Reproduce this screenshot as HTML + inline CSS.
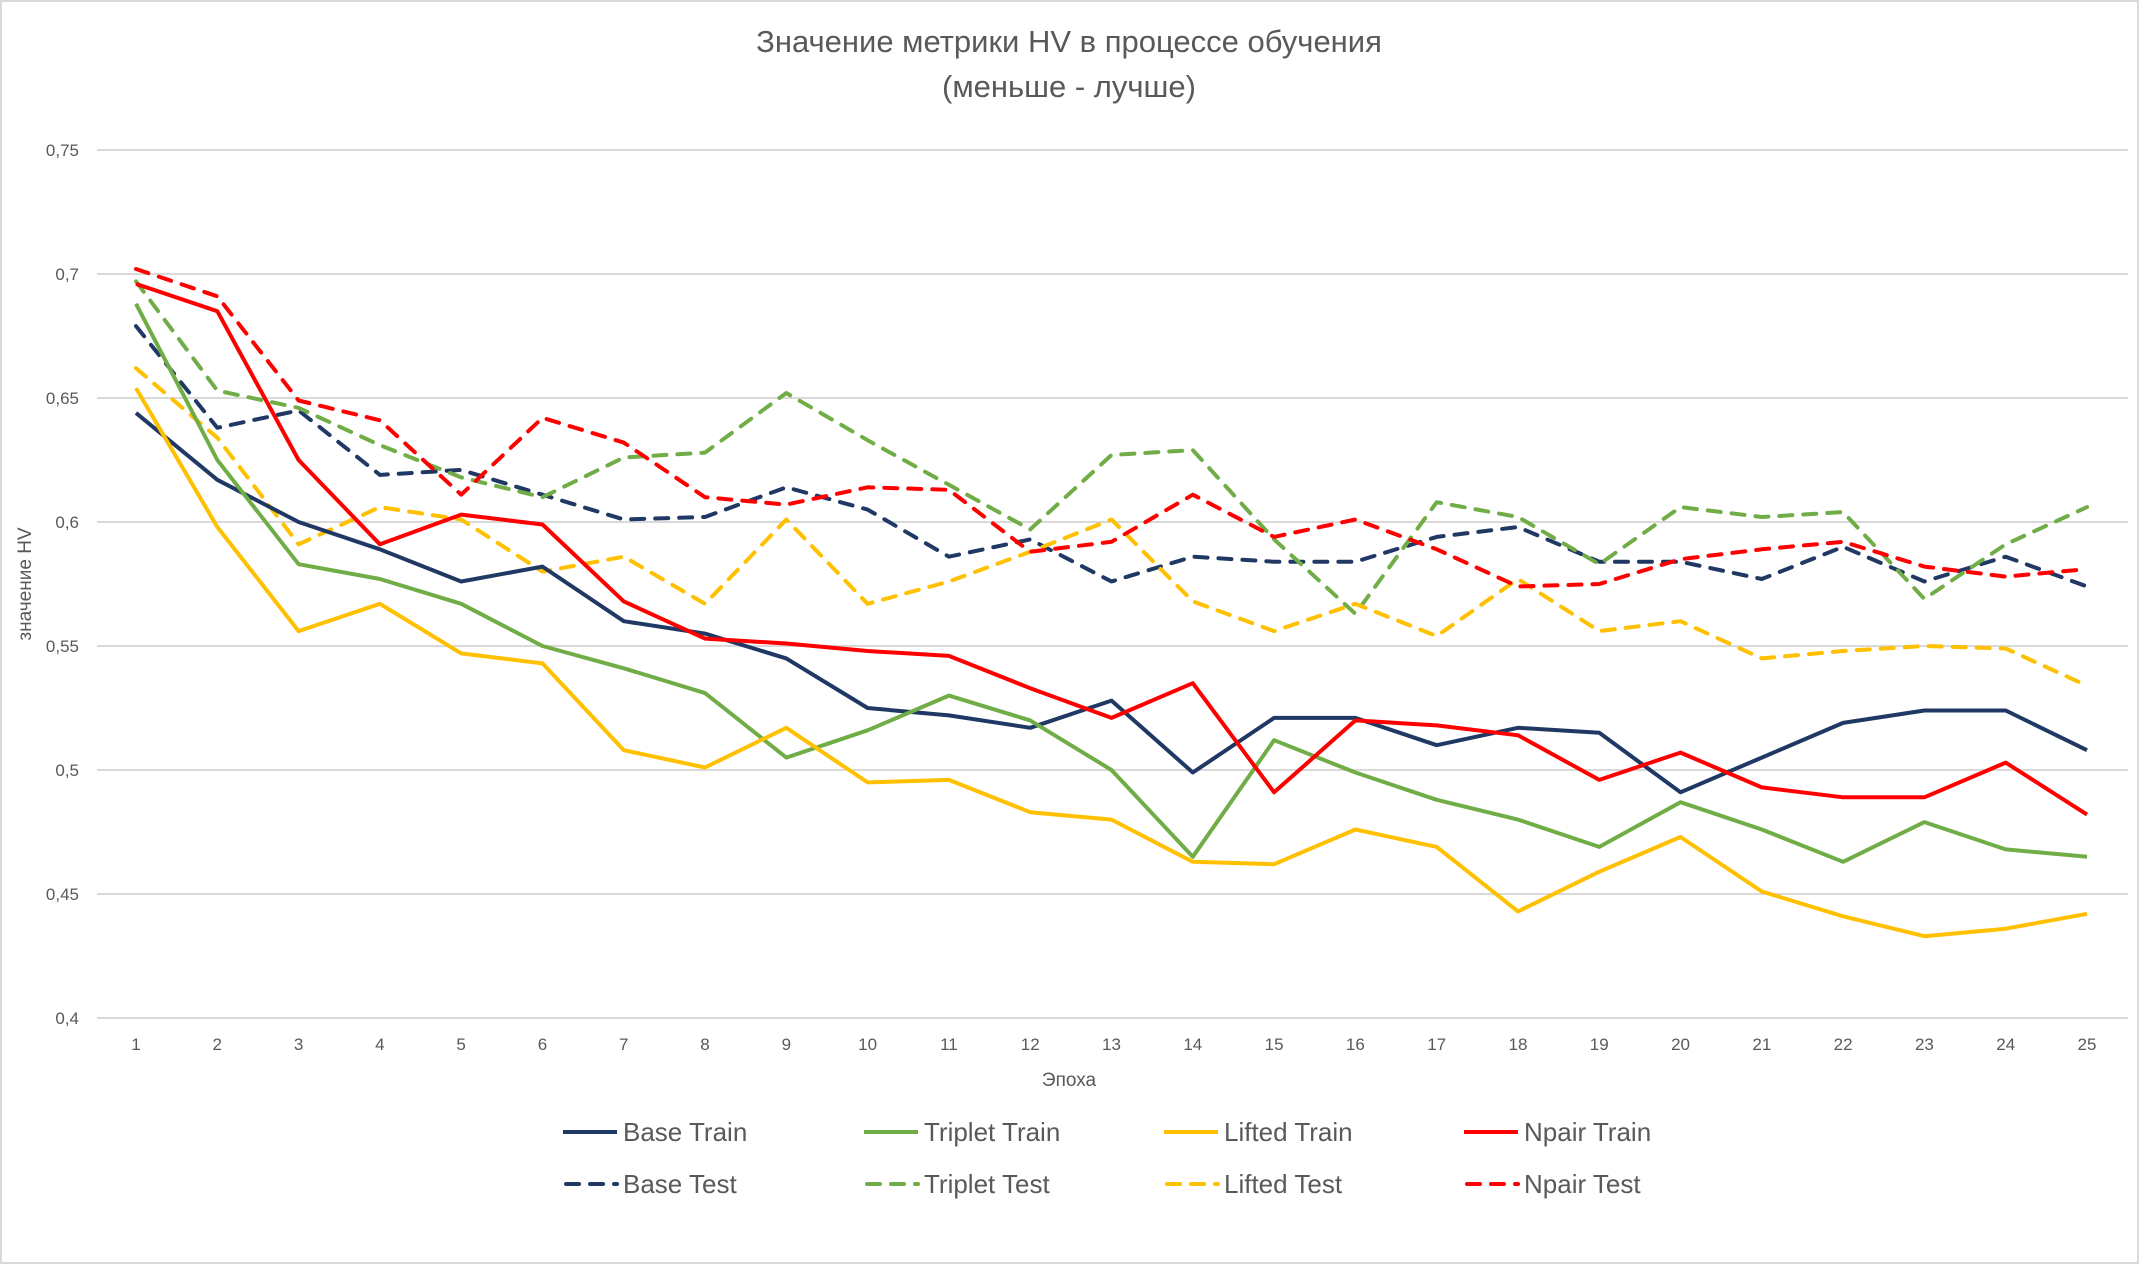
<!DOCTYPE html>
<html><head><meta charset="utf-8"><style>
html,body{margin:0;padding:0;background:#fff;}
svg{display:block;font-family:"Liberation Sans","DejaVu Sans",sans-serif;}
</style></head><body>
<svg id="chart" width="2139" height="1264" viewBox="0 0 2139 1264">
<rect x="1" y="1" width="2137" height="1262" fill="#fff" stroke="#d9d9d9" stroke-width="2"/>
<text x="1069" y="52" text-anchor="middle" font-size="31" fill="#595959">Значение метрики HV в процессе обучения</text>
<text x="1069" y="97" text-anchor="middle" font-size="31" fill="#595959">(меньше - лучше)</text>
<g id="grid"></g>
<g id="yticks"></g>
<g id="xticks"></g>
<g id="series"></g>
<text x="1069" y="1086" text-anchor="middle" font-size="19" fill="#595959">Эпоха</text>
<text transform="translate(31,584) rotate(-90)" text-anchor="middle" font-size="19" fill="#595959">значение HV</text>
<g id="legend"></g>
</svg>
<script>
const epochs=[1,2,3,4,5,6,7,8,9,10,11,12,13,14,15,16,17,18,19,20,21,22,23,24,25];
const yTicks=[0.4,0.45,0.5,0.55,0.6,0.65,0.7,0.75];
const yTickLabels=["0,4","0,45","0,5","0,55","0,6","0,65","0,7","0,75"];
const baseTrain=[0.644,0.617,0.600,0.589,0.576,0.582,0.560,0.555,0.545,0.525,0.522,0.517,0.528,0.499,0.521,0.521,0.510,0.517,0.515,0.491,0.505,0.519,0.524,0.524,0.508];
const tripletTrain=[0.688,0.625,0.583,0.577,0.567,0.550,0.541,0.531,0.505,0.516,0.530,0.520,0.500,0.465,0.512,0.499,0.488,0.480,0.469,0.487,0.476,0.463,0.479,0.468,0.465];
const liftedTrain=[0.654,0.598,0.556,0.567,0.547,0.543,0.508,0.501,0.517,0.495,0.496,0.483,0.480,0.463,0.462,0.476,0.469,0.443,0.459,0.473,0.451,0.441,0.433,0.436,0.442];
const npairTrain=[0.696,0.685,0.625,0.591,0.603,0.599,0.568,0.553,0.551,0.548,0.546,0.533,0.521,0.535,0.491,0.520,0.518,0.514,0.496,0.507,0.493,0.489,0.489,0.503,0.482];
const baseTest=[0.679,0.638,0.645,0.619,0.621,0.611,0.601,0.602,0.614,0.605,0.586,0.593,0.576,0.586,0.584,0.584,0.594,0.598,0.584,0.584,0.577,0.590,0.576,0.586,0.574];
const tripletTest=[0.697,0.653,0.646,0.631,0.618,0.610,0.626,0.628,0.652,0.633,0.615,0.597,0.627,0.629,0.593,0.563,0.608,0.602,0.583,0.606,0.602,0.604,0.569,0.591,0.606];
const liftedTest=[0.662,0.634,0.591,0.606,0.601,0.580,0.586,0.567,0.601,0.567,0.576,0.588,0.601,0.568,0.556,0.567,0.554,0.577,0.556,0.560,0.545,0.548,0.550,0.549,0.534];
const npairTest=[0.702,0.691,0.649,0.641,0.611,0.642,0.632,0.610,0.607,0.614,0.613,0.588,0.592,0.611,0.594,0.601,0.589,0.574,0.575,0.585,0.589,0.592,0.582,0.578,0.581];
const seriesNames=["Base Train","Triplet Train","Lifted Train","Npair Train","Base Test","Triplet Test","Lifted Test","Npair Test"];

const NS="http://www.w3.org/2000/svg";
const X0=136,X1=2087,Y0=1018,Y1=150,VMIN=0.4,VMAX=0.75;
function xScale(i){return X0+(X1-X0)*i/(epochs.length-1);}
function yScale(v){return Y0-(v-VMIN)/(VMAX-VMIN)*(Y0-Y1);}
function mk(tag,attrs,parent){const e=document.createElementNS(NS,tag);for(const k in attrs)e.setAttribute(k,attrs[k]);parent.appendChild(e);return e;}
const grid=document.getElementById('grid'),yt=document.getElementById('yticks'),xt=document.getElementById('xticks'),sg=document.getElementById('series'),lg=document.getElementById('legend');
yTicks.forEach((v,i)=>{
  const l=mk('line',{x1:97,x2:2128,y1:yScale(v),y2:yScale(v),stroke:'#d9d9d9','stroke-width':2},grid);
  
  
  const t=mk('text',{x:79,y:yScale(v)+6,'text-anchor':'end','font-size':17,fill:'#595959'},yt);
  t.textContent=yTickLabels[i];
  
  
});
epochs.forEach((e,i)=>{
  const t=mk('text',{x:xScale(i),y:1050,'text-anchor':'middle','font-size':17,fill:'#595959'},xt);
  t.textContent=e;
  
  
});
const data=[baseTrain,tripletTrain,liftedTrain,npairTrain,baseTest,tripletTest,liftedTest,npairTest];
const colors=['#203864','#70ad47','#ffc000','#ff0000','#203864','#70ad47','#ffc000','#ff0000'];
const order=[4,5,6,7,0,1,2,3];
order.forEach(k=>{
  const pts=data[k].map((v,i)=>xScale(i).toFixed(1)+','+yScale(v).toFixed(1)).join(' ');
  const attrs={points:pts,fill:'none',stroke:colors[k],'stroke-width':4,'stroke-linejoin':'round'};
  if(k>=4){attrs['stroke-dasharray']='13 11';attrs['stroke-linecap']='round';}
  const p=mk('polyline',attrs,sg);
  
  
});
const lx=[563,864,1164,1464],ly=[1132,1184];
seriesNames.forEach((n,k)=>{
  const x=lx[k%4],y=ly[Math.floor(k/4)];
  const g=mk('g',{},lg);
  
  
  const a={x1:x,x2:x+54,y1:y,y2:y,stroke:colors[k],'stroke-width':4};
  if(k>=4){a['stroke-dasharray']='13 11';a['stroke-linecap']='round';a.x1=x+3;}
  mk('line',a,g);
  const t=mk('text',{x:x+60,y:y+9,'font-size':26,fill:'#595959'},g);
  t.textContent=n;
});
</script>
</body></html>
